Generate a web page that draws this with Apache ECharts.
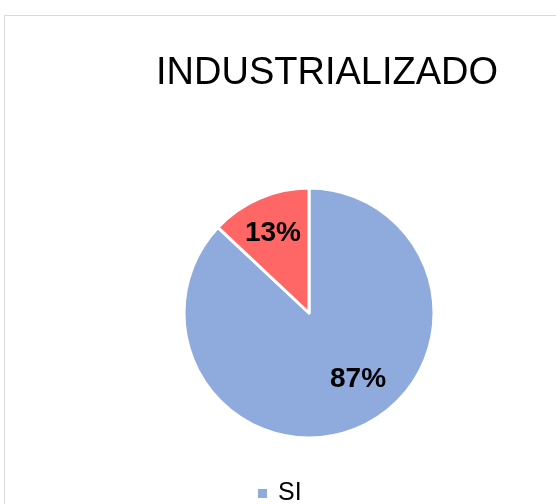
<!DOCTYPE html>
<html>
<head>
<meta charset="utf-8">
<script src="https://cdn.jsdelivr.net/npm/echarts@6/dist/echarts.min.js"></script>
<style>
  html, body { margin: 0; padding: 0; background: #fff; }
  #main { width: 556px; height: 504px; }
</style>
</head>
<body>
<div id="main"></div>
<script>
  // datos
  var categorias = ['SI', 'NO']
  var valores = [87, 13]
  var colores = ['#8FAADC', '#FF6666']
  // ajuste de etiquetas (como en excel)
  var desplazamientos = [[23, 6], [-10, -20]]

  var myChart = echarts.init(document.getElementById('main'))
  var option = {
    animation: false,
    title: {
      text: 'INDUSTRIALIZADO',
      left: 151,
      top: 50,
      textStyle: {
        fontFamily: 'Liberation Sans, Arial, sans-serif',
        fontSize: 38,
        fontWeight: 'normal',
        color: '#000'
      }
    },
    graphic: [{
      type: 'rect',
      shape: { x: 4.5, y: 15.5, width: 700, height: 700 },
      style: { fill: 'none', stroke: '#d9d9d9', lineWidth: 1 },
      silent: true,
      z: -10
    }],
    legend: {
      orient: 'vertical',
      left: 251,
      top: 476,
      height: 100,
      itemWidth: 11,
      itemHeight: 11,
      itemGap: 12,
      icon: 'rect',
      data: categorias,
      textStyle: {
        fontFamily: 'Liberation Sans, Arial, sans-serif',
        fontSize: 25,
        color: '#000',
        padding: [0, 0, 0, 5]
      }
    },
    series: [{
      name: 'INDUSTRIALIZADO',
      type: 'pie',
      center: [309, 313],
      radius: 125,
      startAngle: 90,
      clockwise: true,
      itemStyle: { borderColor: '#fff', borderWidth: 3 },
      label: {
        show: true,
        position: 'inside',
        formatter: '{d}%',
        fontFamily: 'Liberation Sans, Arial, sans-serif',
        fontSize: 28,
        fontWeight: 'bold',
        color: '#000'
      },
      labelLayout: function (params) {
        var d = desplazamientos[params.dataIndex]
        return { dx: d[0], dy: d[1] }
      },
      data: categorias.map(function (c, i) {
        return { name: c, value: valores[i], itemStyle: { color: colores[i] } }
      })
    }]
  }
  myChart.setOption(option)
</script>
</body>
</html>
